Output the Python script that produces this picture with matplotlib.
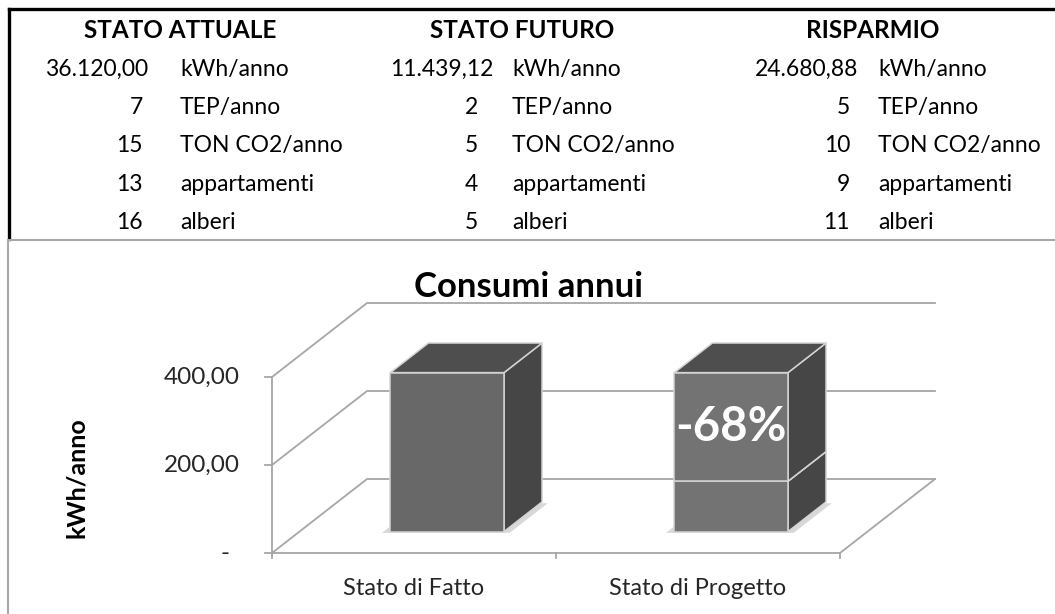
import matplotlib.pyplot as plt
from matplotlib.patches import Polygon

plt.rcParams['font.family'] = ['Lato', 'DejaVu Sans']

# --- dati tabella ---
headers = ['STATO ATTUALE', 'STATO FUTURO', 'RISPARMIO']
units = ['kWh/anno', 'TEP/anno', 'TON CO2/anno', 'appartamenti', 'alberi']
attuale = ['36.120,00', '7', '15', '13', '16']
futuro = ['11.439,12', '2', '5', '4', '5']
risparmio = ['24.680,88', '5', '10', '9', '11']

# --- dati grafico (kWh/anno / 100) ---
categories = ['Stato di Fatto', 'Stato di Progetto']
consumo = [361.20, 114.39]
risparmio_bar = [0.0, 246.81]
y_ticks = [0, 200, 400]
y_tick_labels = ['-', '200,00', '400,00']

W, H = 1055, 614
fig = plt.figure(figsize=(W / 100, H / 100), dpi=100)

# ---------------- tabella (coordinate in pixel) ----------------
ax_t = fig.add_axes([0, 0, 1, 1])
ax_t.set_xlim(0, W)
ax_t.set_ylim(H, 0)
ax_t.axis('off')

ax_t.plot([8.5, 8.5], [239, 8.5], color='black', lw=2.4, solid_capstyle='projecting')
ax_t.plot([8.5, W], [8.5, 8.5], color='black', lw=2.4, solid_capstyle='projecting')
ax_t.plot([8, W], [240, 240], color='#a8a8a8', lw=1.5)
ax_t.plot([8, 8], [240, H], color='#a8a8a8', lw=1.5)

header_x = [180, 522, 873]
num_right_first = [148, 493, 858]
num_right = [143, 478, 850]
label_left = [180, 512, 878]
row_y = [76, 114, 152, 191, 229]
tsize = 16.5

for c, (head, col) in enumerate(zip(headers, [attuale, futuro, risparmio])):
    ax_t.text(header_x[c], 38, head, ha='center', va='baseline',
              fontsize=17.5, fontweight='bold', color='black')
    for r, (val, unit) in enumerate(zip(col, units)):
        xr = num_right_first[c] if r == 0 else num_right[c]
        ax_t.text(xr, row_y[r], val, ha='right', va='baseline', fontsize=tsize, color='black')
        ax_t.text(label_left[c], row_y[r], unit, ha='left', va='baseline', fontsize=tsize, color='black')

# ---------------- grafico 3D finto (proiezione obliqua) ----------------
# asse frontale: x=0 a 272px, 284px per categoria; 0 a y=553px, 0.44 px per unita
PX_CAT, PX_VAL = 284.0, 0.44
X0, Y0 = 272.0, 553.0
top_px = 240
ax = fig.add_axes([0, 0, 1, (H - top_px) / H])
ax.set_xlim(-X0 / PX_CAT, (W - X0) / PX_CAT)
ax.set_ylim(-(H - Y0) / PX_VAL, (Y0 - top_px) / PX_VAL)
ax.axis('off')
ax.patch.set_visible(False)

DEPTH_X = 95 / PX_CAT
DEPTH_V = 74 / PX_VAL


def proj(x, v, z):
    return (x + z * DEPTH_X, v + z * DEPTH_V)


grid_c = '#a6a6a6'
n = len(categories)
for v in y_ticks:
    pts = [proj(0, v, 0), proj(0, v, 1), proj(n, v, 1)]
    ax.plot([p[0] for p in pts], [p[1] for p in pts], color=grid_c, lw=1.3, zorder=1)
# pavimento
pts = [proj(0, 0, 0), proj(n, 0, 0), proj(n, 0, 1)]
ax.plot([p[0] for p in pts], [p[1] for p in pts], color=grid_c, lw=1.3, zorder=1)

# asse verticale + tacche
ax.plot([0, 0], [-4, max(y_ticks)], color=grid_c, lw=1.3, zorder=1)
for v, lab in zip(y_ticks, y_tick_labels):
    ax.plot([-0.025, 0], [v, v], color=grid_c, lw=1.3, zorder=1)
    xl = -0.113 if lab != '-' else -0.148
    ax.text(xl, v, lab, ha='right', va='center', fontsize=17.5, color='#262626')
for i in range(n + 1):
    ax.plot([i, i], [0, -12], color=grid_c, lw=1.3, zorder=1)

ax.text(-0.687, 172, 'kWh/anno', rotation=90, ha='center', va='center',
        fontsize=18, fontweight='bold', color='black')
for i, cat in enumerate(categories):
    ax.text(i + 0.5, -80, cat, ha='center', va='center', fontsize=17, color='#262626')

fig.text(529 / W, 1 - 287 / H, 'Consumi annui', ha='center', va='center',
         fontsize=25, fontweight='bold', color='black')

BAR_W = 0.40
Z0, Z1 = 0.29, 0.69
front_cols = ['#686868', '#737373']
side_c, top_c = '#464646', '#4e4e4e'
edge_c = '#d4d4d4'


def box(xc, v0, v1, fc, zo):
    xl, xr = xc - BAR_W / 2, xc + BAR_W / 2
    front = [proj(xl, v0, Z0), proj(xr, v0, Z0), proj(xr, v1, Z0), proj(xl, v1, Z0)]
    side = [proj(xr, v0, Z0), proj(xr, v0, Z1), proj(xr, v1, Z1), proj(xr, v1, Z0)]
    top = [proj(xl, v1, Z0), proj(xr, v1, Z0), proj(xr, v1, Z1), proj(xl, v1, Z1)]
    for poly, col in [(side, side_c), (top, top_c), (front, fc)]:
        ax.add_patch(Polygon(poly, closed=True, facecolor=col, edgecolor=edge_c,
                             lw=1.1, zorder=zo, joinstyle='round'))


for i in range(n):
    xc = i + 0.52
    # ombra
    sh = [proj(xc - BAR_W / 2 - 0.03, -3, Z0), proj(xc + BAR_W / 2 + 0.02, -3, Z0),
          proj(xc + BAR_W / 2 + 0.02, -3, Z1), proj(xc - BAR_W / 2 - 0.03, -3, Z1)]
    ax.add_patch(Polygon(sh, closed=True, facecolor='#d8d8d8', edgecolor='none', zorder=2))
    box(xc, 0, consumo[i], front_cols[i], 3)
    if risparmio_bar[i] > 0:
        top_v = consumo[i] + risparmio_bar[i]
        box(xc, consumo[i], top_v, front_cols[i], 4)
        perc = -round(risparmio_bar[i] / (consumo[i] + risparmio_bar[i]) * 100)
        tx, ty = proj(xc, (consumo[i] + top_v) / 2, Z0)
        ax.text(tx, ty, f'{perc}%', ha='center', va='center', fontsize=34,
                fontweight='bold', color='white', zorder=6)

fig.savefig('out.png', dpi=100)
